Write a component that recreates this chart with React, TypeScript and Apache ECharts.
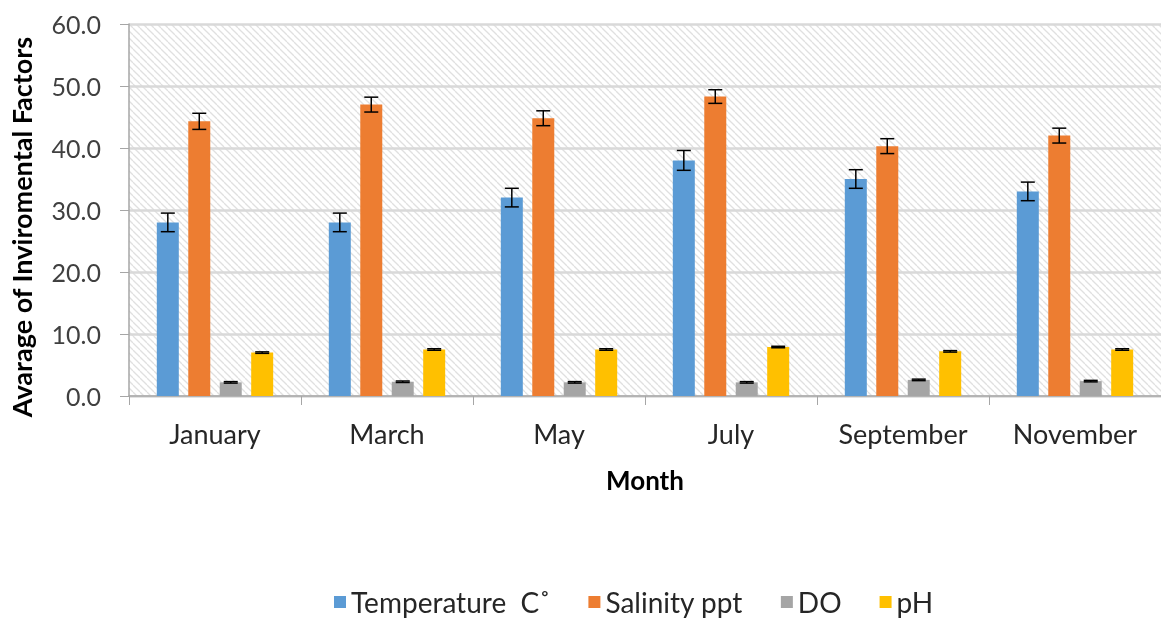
import React, { useEffect, useRef } from "react";
import * as echarts from "echarts";

const months = ["January", "March", "May", "July", "September", "November"];
const seriesNames = ["Temperature  C˚", "Salinity ppt", "DO", "pH"];
const temperature = [28.0, 28.0, 32.0, 38.0, 35.0, 33.0];
const temperatureErr = [1.5, 1.5, 1.5, 1.6, 1.5, 1.5];
const salinity = [44.3, 47.0, 44.8, 48.3, 40.3, 42.0];
const salinityErr = [1.3, 1.2, 1.2, 1.1, 1.2, 1.2];
const dissolvedOxygen = [2.2, 2.3, 2.2, 2.2, 2.6, 2.4];
const dissolvedOxygenErr = [0.12, 0.12, 0.12, 0.12, 0.12, 0.12];
const ph = [7.0, 7.5, 7.5, 7.9, 7.2, 7.5];
const phErr = [0.12, 0.12, 0.12, 0.12, 0.12, 0.12];
const yTicks = [0, 10, 20, 30, 40, 50, 60];

const colors = ["#5B9BD5", "#ED7D31", "#A5A5A5", "#FFC000"];
const BAR_W = 22;
const BAR_GAP = 0.43;

function makeHatch(): HTMLCanvasElement {
  const s = 7;
  const c = document.createElement("canvas");
  c.width = s;
  c.height = s;
  const ctx = c.getContext("2d")!;
  ctx.fillStyle = "#ffffff";
  ctx.fillRect(0, 0, s, s);
  ctx.strokeStyle = "#e0e0e0";
  ctx.lineWidth = 1.3;
  for (let k = -1; k <= 1; k++) {
    ctx.beginPath();
    ctx.moveTo(k * s, 0);
    ctx.lineTo(k * s + s, s);
    ctx.stroke();
  }
  return c;
}

export default function App() {
  const ref = useRef<HTMLDivElement>(null);
  useEffect(() => {
    if (!ref.current) return;
    const chart = echarts.init(ref.current, undefined, { renderer: "svg" });
    const hatch = makeHatch();
    const values = [temperature, salinity, dissolvedOxygen, ph];
    const errs = [temperatureErr, salinityErr, dissolvedOxygenErr, phErr];
    const font = "Lato, 'Open Sans', sans-serif";

    const barSeries = values.map((v, i) => ({
      type: "bar",
      name: seriesNames[i],
      data: v,
      barWidth: BAR_W,
      barGap: BAR_GAP * 100 + "%",
      itemStyle: { color: colors[i] },
      z: 2,
    }));

    const errSeries = values.map((v, i) => ({
      type: "custom",
      name: seriesNames[i] + "_err",
      data: v.map((val, j) => [j, val - errs[i][j], val + errs[i][j]]),
      z: 5,
      renderItem: (params: any, api: any) => {
        const offset = (i - 1.5) * BAR_W * (1 + BAR_GAP);
        const lo = api.coord([api.value(0), api.value(1)]);
        const hi = api.coord([api.value(0), api.value(2)]);
        const x = lo[0] + offset;
        const cap = 7;
        const st = { stroke: "#000", lineWidth: 1.5 };
        return {
          type: "group",
          children: [
            { type: "line", shape: { x1: x, y1: lo[1], x2: x, y2: hi[1] }, style: st },
            { type: "line", shape: { x1: x - cap, y1: lo[1], x2: x + cap, y2: lo[1] }, style: st },
            { type: "line", shape: { x1: x - cap, y1: hi[1], x2: x + cap, y2: hi[1] }, style: st },
          ],
        };
      },
    }));

    chart.setOption({
      animation: false,
      grid: {
        left: 128,
        right: -10,
        top: 24,
        bottom: 227,
        show: true,
        borderWidth: 0,
        backgroundColor: { image: hatch, repeat: "repeat", imageWidth: 7, imageHeight: 7 } as any,
      },
      legend: {
        data: seriesNames,
        bottom: 2,
        left: 329,
        itemWidth: 12,
        itemHeight: 12,
        itemGap: 38,
        icon: "rect",
        textStyle: { fontFamily: font, fontSize: 28, color: "#262626" },
      },
      xAxis: {
        type: "category",
        data: months,
        name: "Month",
        nameLocation: "middle",
        nameGap: 71,
        nameTextStyle: { fontFamily: font, fontSize: 26, fontWeight: "bold", color: "#000" },
        axisLine: { lineStyle: { color: "#a6a6a6", width: 1.5 } },
        axisTick: { show: true, length: 9, lineStyle: { color: "#a6a6a6" } },
        axisLabel: { fontFamily: font, fontSize: 27, color: "#262626", margin: 24 },
      },
      yAxis: {
        type: "value",
        min: 0,
        max: 60,
        interval: 10,
        name: "Avarage of Inviromental Factors",
        nameLocation: "middle",
        nameGap: 94,
        nameTextStyle: {
          fontFamily: font,
          fontSize: 27,
          fontWeight: "bold",
          color: "#000",
          padding: [0, 34, 0, 0],
        },
        axisLine: { show: true, lineStyle: { color: "#a6a6a6", width: 1.5 } },
        axisTick: { show: true, length: 9, lineStyle: { color: "#a6a6a6" } },
        axisLabel: {
          fontFamily: font,
          fontSize: 25,
          color: "#404040",
          margin: 28,
          formatter: (v: number) => (yTicks.includes(v) ? v.toFixed(1) : ""),
        },
        splitLine: { lineStyle: { color: "#d9d9d9", width: 2.5 } },
      },
      series: [...barSeries, ...errSeries],
    });
    return () => chart.dispose();
  }, []);
  return (
    <div
      ref={ref}
      style={{ position: "fixed", left: 0, top: 0, width: 1161, height: 623 }}
    />
  );
}
